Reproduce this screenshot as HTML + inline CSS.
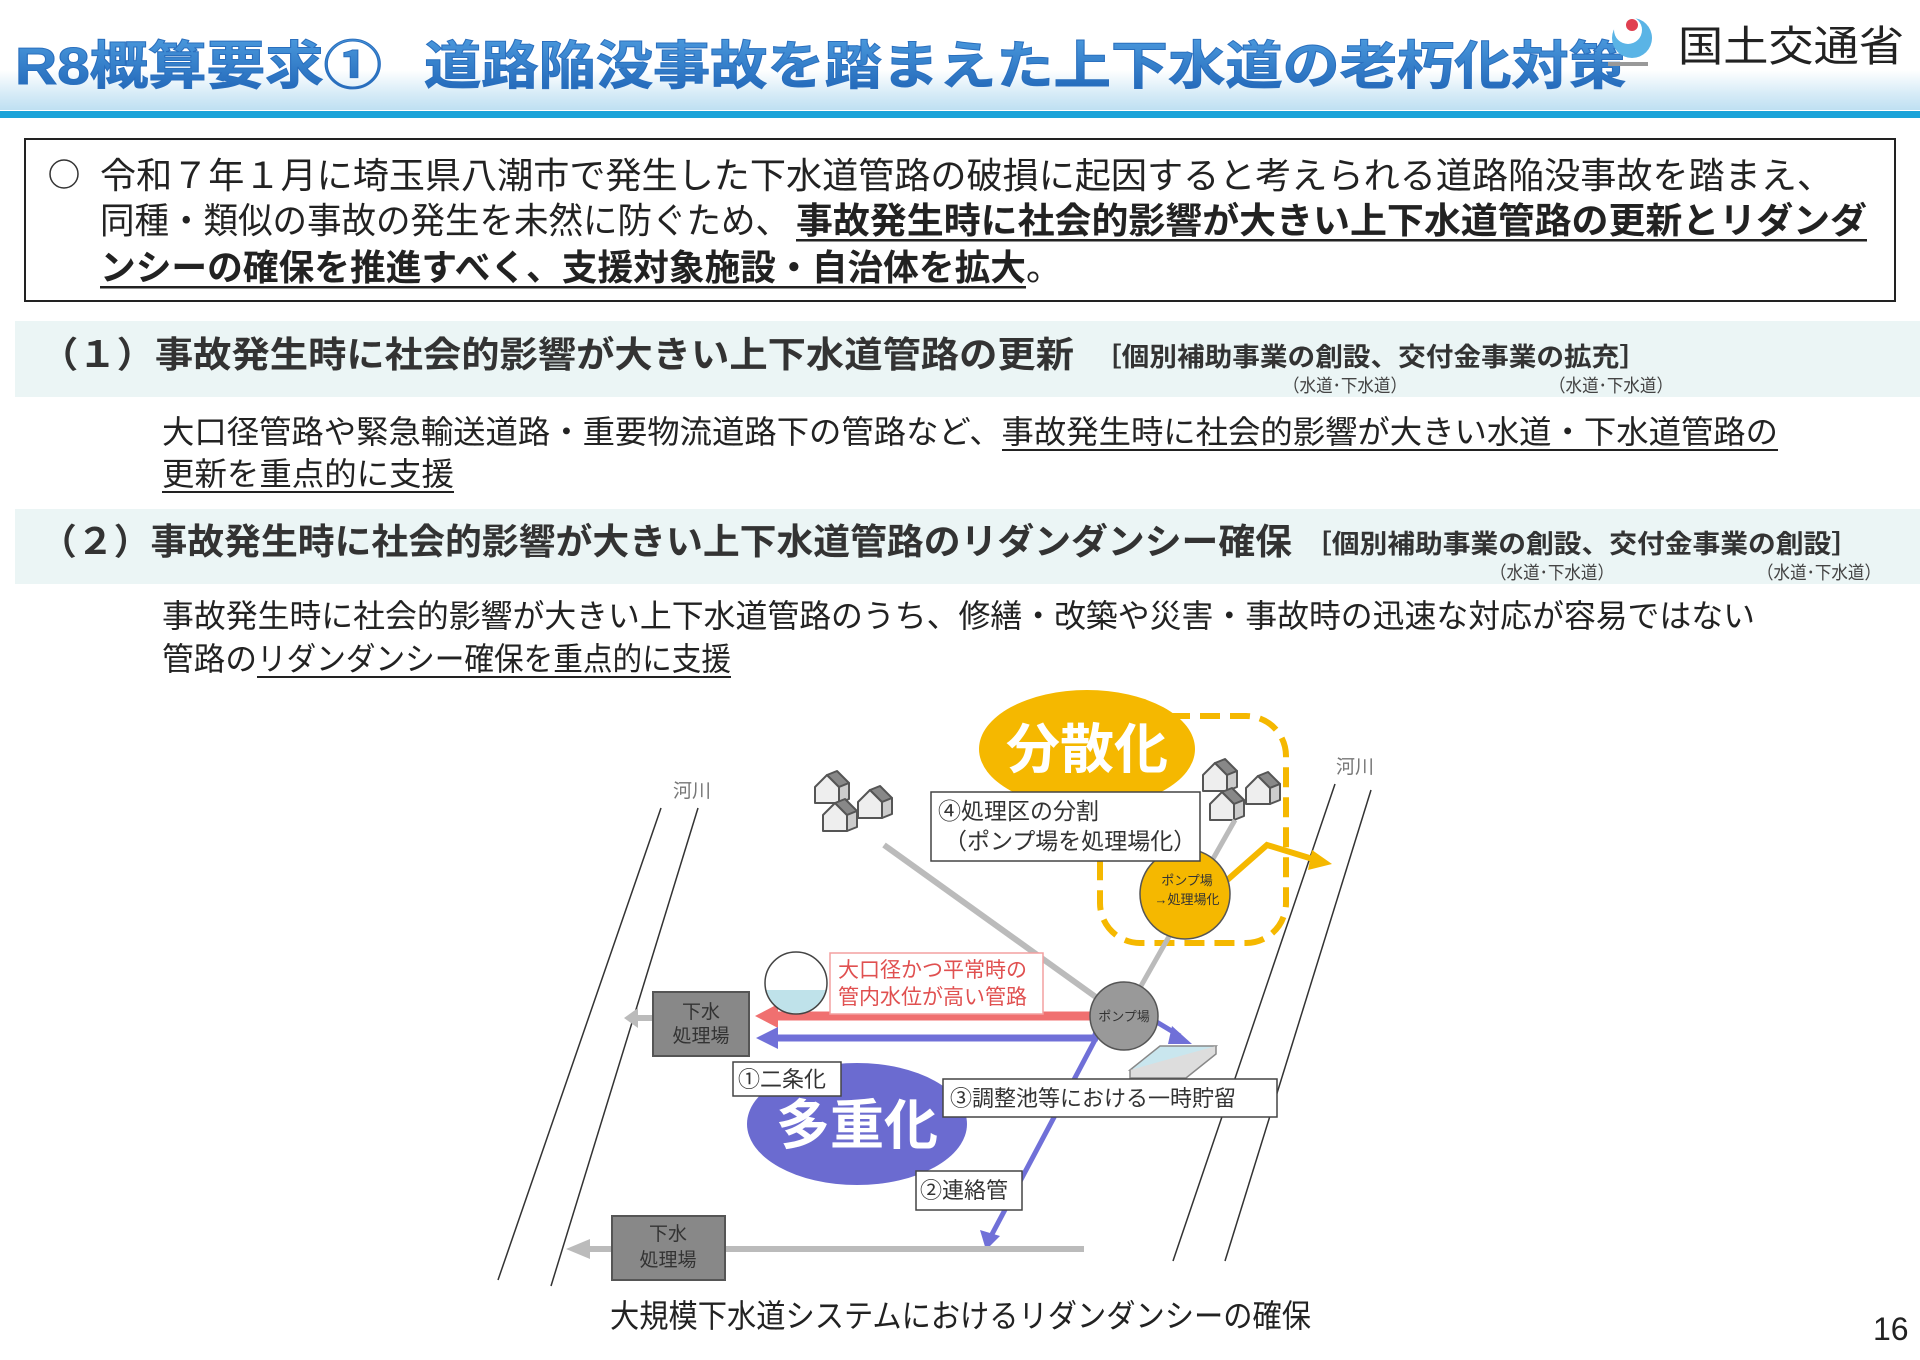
<!DOCTYPE html>
<html><head><meta charset="utf-8"><style>
html,body{margin:0;padding:0;background:#fff;}
svg{display:block;font-family:"Liberation Sans","Noto Sans CJK JP",sans-serif;}
</style></head><body>
<svg width="1920" height="1360" viewBox="0 0 1920 1360" xmlns="http://www.w3.org/2000/svg">
<defs>
<linearGradient id="band" x1="0" y1="0" x2="0" y2="1">
<stop offset="0" stop-color="#ffffff"/><stop offset="0.6" stop-color="#d6ebf7"/><stop offset="1" stop-color="#bfe0f2"/>
</linearGradient>
<linearGradient id="tt" x1="0" y1="0" x2="0" y2="1">
<stop offset="0" stop-color="#4a98dc"/><stop offset="1" stop-color="#1f64b6"/>
</linearGradient>
</defs>
<rect x="0" y="70" width="1920" height="40" fill="url(#band)"/>
<rect x="0" y="111" width="1920" height="7" fill="#1ba3d9"/>
<text x="15" y="84" font-size="52" font-weight="bold" fill="url(#tt)" stroke="#2a6fbe" stroke-width="1" textLength="367" lengthAdjust="spacingAndGlyphs">R8概算要求①</text>
<text x="424" y="84" font-size="52" font-weight="bold" fill="url(#tt)" stroke="#2a6fbe" stroke-width="1" textLength="1202" lengthAdjust="spacingAndGlyphs">道路陥没事故を踏まえた上下水道の老朽化対策</text>
<circle cx="1632" cy="38" r="20" fill="#5ab4e6"/><circle cx="1628" cy="30" r="14" fill="#fff"/><circle cx="1632" cy="25" r="6" fill="#e04050"/>
<rect x="1608" y="62" width="40" height="4" fill="#999"/>
<text x="1678" y="61" font-size="42" fill="#222" textLength="226" lengthAdjust="spacingAndGlyphs">国土交通省</text>
<rect x="25" y="139" width="1870" height="162" fill="#fff" stroke="#222" stroke-width="2"/>
<circle cx="64" cy="174" r="14" fill="none" stroke="#333" stroke-width="1.5"/>
<g font-size="36" fill="#222">
<text x="100" y="188" textLength="1733" lengthAdjust="spacingAndGlyphs">令和７年１月に埼玉県八潮市で発生した下水道管路の破損に起因すると考えられる道路陥没事故を踏まえ、</text>
<text x="100" y="233" textLength="690" lengthAdjust="spacingAndGlyphs">同種・類似の事故の発生を未然に防ぐため、</text>
<text x="796" y="233" font-weight="bold" textLength="1071" lengthAdjust="spacingAndGlyphs">事故発生時に社会的影響が大きい上下水道管路の更新とリダンダ</text>
<text x="100" y="280" font-weight="bold" textLength="926" lengthAdjust="spacingAndGlyphs">ンシーの確保を推進すべく、支援対象施設・自治体を拡大</text>
<text x="1026" y="280">。</text>
</g>
<rect x="796" y="239" width="1071" height="2.5" fill="#222"/>
<rect x="100" y="286" width="926" height="2.5" fill="#222"/>
<rect x="15" y="321" width="1905" height="76" fill="#ebf5f5"/>
<text x="40" y="367" font-size="36" font-weight="bold" fill="#333" textLength="1034" lengthAdjust="spacingAndGlyphs">（１）事故発生時に社会的影響が大きい上下水道管路の更新</text>
<text x="1094" y="366" font-size="26" font-weight="bold" fill="#333" textLength="553" lengthAdjust="spacingAndGlyphs">［個別補助事業の創設、交付金事業の拡充］</text>
<text x="1283" y="392" font-size="18" fill="#444" textLength="124" lengthAdjust="spacingAndGlyphs">（水道･下水道）</text>
<text x="1549" y="392" font-size="18" fill="#444" textLength="124" lengthAdjust="spacingAndGlyphs">（水道･下水道）</text>
<g font-size="32" fill="#222">
<text x="162" y="443" textLength="1616" lengthAdjust="spacingAndGlyphs">大口径管路や緊急輸送道路・重要物流道路下の管路など、事故発生時に社会的影響が大きい水道・下水道管路の</text>
<text x="162" y="485" textLength="292" lengthAdjust="spacingAndGlyphs">更新を重点的に支援</text>
</g>
<rect x="1002" y="449" width="776" height="2" fill="#222"/>
<rect x="162" y="491" width="292" height="2" fill="#222"/>
<rect x="15" y="509" width="1905" height="75" fill="#ebf5f5"/>
<text x="40" y="554" font-size="36" font-weight="bold" fill="#333" textLength="1252" lengthAdjust="spacingAndGlyphs">（２）事故発生時に社会的影響が大きい上下水道管路のリダンダンシー確保</text>
<text x="1304" y="553" font-size="26" font-weight="bold" fill="#333" textLength="555" lengthAdjust="spacingAndGlyphs">［個別補助事業の創設、交付金事業の創設］</text>
<text x="1490" y="579" font-size="18" fill="#444" textLength="124" lengthAdjust="spacingAndGlyphs">（水道･下水道）</text>
<text x="1757" y="579" font-size="18" fill="#444" textLength="124" lengthAdjust="spacingAndGlyphs">（水道･下水道）</text>
<g font-size="32" fill="#222">
<text x="162" y="627" textLength="1593" lengthAdjust="spacingAndGlyphs">事故発生時に社会的影響が大きい上下水道管路のうち、修繕・改築や災害・事故時の迅速な対応が容易ではない</text>
<text x="162" y="670" textLength="95" lengthAdjust="spacingAndGlyphs">管路の</text>
<text x="257" y="670" textLength="474" lengthAdjust="spacingAndGlyphs">リダンダンシー確保を重点的に支援</text>
</g>
<rect x="257" y="676" width="474" height="2" fill="#222"/>
<g stroke="#333" stroke-width="1.5" fill="none">
<line x1="661" y1="808" x2="498" y2="1280"/><line x1="698" y1="808" x2="551" y2="1286"/>
<line x1="1335" y1="784" x2="1173" y2="1261"/><line x1="1371" y1="790" x2="1225" y2="1261"/>
</g>
<text x="673" y="797" font-size="19" fill="#777">河川</text>
<text x="1336" y="773" font-size="19" fill="#777">河川</text>
<rect x="1100" y="716" width="186" height="227" rx="40" fill="none" stroke="#f5b800" stroke-width="6" stroke-dasharray="20,10"/>
<ellipse cx="1087" cy="749" rx="108" ry="59" fill="#f5b800"/>
<text x="1087" y="768" font-size="54" font-weight="bold" fill="#fff" text-anchor="middle">分散化</text>
<g stroke="#555" stroke-width="2" stroke-linejoin="round">
<g transform="translate(815,775)"><path d="M0,12 l12,-12 l12,12 v16 h-24 z" fill="#eee"/><path d="M12,0 l10,-4 l12,12 l-10,4 z" fill="#888"/><path d="M24,12 l10,-4 v16 l-10,4 z" fill="#ccc"/></g>
<g transform="translate(858,790)"><path d="M0,12 l12,-12 l12,12 v16 h-24 z" fill="#eee"/><path d="M12,0 l10,-4 l12,12 l-10,4 z" fill="#888"/><path d="M24,12 l10,-4 v16 l-10,4 z" fill="#ccc"/></g>
<g transform="translate(823,803)"><path d="M0,12 l12,-12 l12,12 v16 h-24 z" fill="#eee"/><path d="M12,0 l10,-4 l12,12 l-10,4 z" fill="#888"/><path d="M24,12 l10,-4 v16 l-10,4 z" fill="#ccc"/></g>
<g transform="translate(1203,763)"><path d="M0,12 l12,-12 l12,12 v16 h-24 z" fill="#eee"/><path d="M12,0 l10,-4 l12,12 l-10,4 z" fill="#888"/><path d="M24,12 l10,-4 v16 l-10,4 z" fill="#ccc"/></g>
<g transform="translate(1246,776)"><path d="M0,12 l12,-12 l12,12 v16 h-24 z" fill="#eee"/><path d="M12,0 l10,-4 l12,12 l-10,4 z" fill="#888"/><path d="M24,12 l10,-4 v16 l-10,4 z" fill="#ccc"/></g>
<g transform="translate(1210,792)"><path d="M0,12 l12,-12 l12,12 v16 h-24 z" fill="#eee"/><path d="M12,0 l10,-4 l12,12 l-10,4 z" fill="#888"/><path d="M24,12 l10,-4 v16 l-10,4 z" fill="#ccc"/></g>
</g>
<line x1="884" y1="845" x2="1100" y2="1000" stroke="#bbb" stroke-width="6"/>
<line x1="1124" y1="1016" x2="1235" y2="820" stroke="#bbb" stroke-width="5"/>
<polyline points="1225,882 1267,845 1316,860" fill="none" stroke="#f5b800" stroke-width="6"/>
<path d="M1312,850 L1332,864 L1308,870 z" fill="#f5b800"/>
<circle cx="1185" cy="894" r="45" fill="#f5b800" stroke="#555" stroke-width="1.5"/>
<text x="1187" y="885" font-size="13" fill="#333" text-anchor="middle">ポンプ場</text>
<text x="1187" y="904" font-size="13" fill="#333" text-anchor="middle">→処理場化</text>
<rect x="931" y="792" width="269" height="69" fill="#fff" stroke="#444" stroke-width="1.5"/>
<text x="938" y="819" font-size="23" fill="#333">④処理区の分割</text>
<text x="944" y="849" font-size="23" fill="#333">（ポンプ場を処理場化）</text>
<line x1="1095" y1="1016" x2="775" y2="1016" stroke="#f07070" stroke-width="9"/>
<path d="M778,1004 L755,1016 L778,1028 z" fill="#f07070"/>
<polyline points="1100,1022 1095,1038 775,1038" fill="none" stroke="#7070d8" stroke-width="7"/>
<path d="M778,1027 L756,1038 L778,1049 z" fill="#7070d8"/>
<line x1="1095" y1="1040" x2="990" y2="1238" stroke="#7070d8" stroke-width="5"/>
<path d="M980,1230 L986,1250 L1000,1236 z" fill="#7070d8"/>
<line x1="1150" y1="1018" x2="1180" y2="1036" stroke="#7070d8" stroke-width="5"/>
<path d="M1172,1026 L1192,1044 L1168,1044 z" fill="#7070d8"/>
<circle cx="1124" cy="1016" r="34" fill="#999" stroke="#555" stroke-width="1.5"/>
<text x="1124" y="1021" font-size="13" fill="#333" text-anchor="middle">ポンプ場</text>
<path d="M1130,1070 l30,-24 h56 l-30,24 z" fill="#c9e6ee" stroke="#888" stroke-width="1.5"/>
<path d="M1130,1070 v8 h56 l30,-24 v-8" fill="#ddd" stroke="#888" stroke-width="1.5"/>
<rect x="830" y="953" width="213" height="61" fill="#fff" stroke="#f3a0a0" stroke-width="1.5"/>
<text x="838" y="977" font-size="21" fill="#e05050">大口径かつ平常時の</text>
<text x="838" y="1004" font-size="21" fill="#e05050">管内水位が高い管路</text>
<circle cx="796" cy="983" r="31" fill="#fff"/>
<path d="M766,990 A31,31 0 0 0 826,990 z" fill="#bfe2ea"/>
<circle cx="796" cy="983" r="31" fill="none" stroke="#444" stroke-width="1.5"/>
<line x1="653" y1="1018" x2="635" y2="1018" stroke="#bbb" stroke-width="6"/>
<path d="M638,1008 L624,1018 L638,1028 z" fill="#bbb"/>
<rect x="653" y="992" width="96" height="64" fill="#888" stroke="#555" stroke-width="2"/>
<text x="701" y="1018" font-size="19" fill="#333" text-anchor="middle">下水</text>
<text x="701" y="1042" font-size="19" fill="#333" text-anchor="middle">処理場</text>
<ellipse cx="857" cy="1124" rx="110" ry="61" fill="#6b6bd0"/>
<text x="857" y="1144" font-size="54" font-weight="bold" fill="#fff" text-anchor="middle">多重化</text>
<rect x="733" y="1062" width="108" height="34" fill="#fff" stroke="#444" stroke-width="1.5"/>
<text x="738" y="1087" font-size="22" fill="#333">①二条化</text>
<rect x="943" y="1079" width="334" height="38" fill="#fff" stroke="#444" stroke-width="1.5"/>
<text x="950" y="1106" font-size="22" fill="#333">③調整池等における一時貯留</text>
<rect x="916" y="1171" width="106" height="39" fill="#fff" stroke="#444" stroke-width="1.5"/>
<text x="920" y="1198" font-size="22" fill="#333">②連絡管</text>
<line x1="1084" y1="1249" x2="585" y2="1249" stroke="#bbb" stroke-width="6"/>
<path d="M590,1239 L566,1249 L590,1259 z" fill="#bbb"/>
<rect x="612" y="1216" width="113" height="64" fill="#888" stroke="#555" stroke-width="2"/>
<text x="668" y="1240" font-size="19" fill="#333" text-anchor="middle">下水</text>
<text x="668" y="1266" font-size="19" fill="#333" text-anchor="middle">処理場</text>
<text x="610" y="1327" font-size="32" fill="#222" textLength="701" lengthAdjust="spacingAndGlyphs">大規模下水道システムにおけるリダンダンシーの確保</text>
<text x="1873" y="1340" font-size="32" fill="#222">16</text>
</svg>
</body></html>
